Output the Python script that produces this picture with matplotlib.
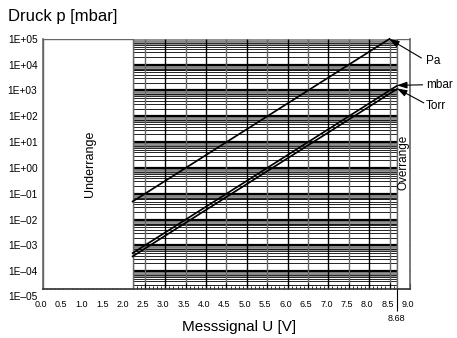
import numpy as np
import matplotlib
matplotlib.use('Agg')
import matplotlib.pyplot as plt
import matplotlib.transforms as mtransforms
from matplotlib.patches import Rectangle

plt.rcParams['font.family'] = ['Liberation Sans', 'DejaVu Sans']

# Kennlinie: p = 10**(U - c)
u_min = 2.2
u_max = 8.68
units = ['Pa', 'mbar', 'Torr']
offsets = [3.5, 5.5, 5.625]
u_ends = [8.5, 8.68, 8.68]

x_ticks = [0.0, 0.5, 1.0, 1.5, 2.0, 2.5, 3.0, 3.5, 4.0, 4.5, 5.0, 5.5, 6.0, 6.5, 7.0, 7.5, 8.0, 8.5, 9.0]
y_exps = [-4, -3, -2, -1, 0, 1, 2, 3, 4, 5]
y_labels = ['1E\u201304', '1E\u201303', '1E\u201302', '1E\u201301', '1E+00',
            '1E+01', '1E+02', '1E+03', '1E+04', '1E+05']

y_bottom = 10 ** -4.69

fig = plt.figure(figsize=(4.57, 3.38), dpi=100)
ax = fig.add_axes([0.094, 0.145, 0.803, 0.740])
ax.set_yscale('log')
ax.set_xlim(0, 9)
ax.set_ylim(y_bottom, 1e5)

# horizontal grid only in the measuring range
for e in range(-5, 5):
    base = 10.0 ** e
    ax.hlines(base, u_min, u_max, color='black', lw=1.6, zorder=1)
    for k in [2, 3, 4, 5, 6, 7]:
        ax.hlines(k * base, u_min, u_max, color='black', lw=0.6, zorder=1)
    for k in [6.5, 7.5, 8, 8.5, 9, 9.5]:
        ax.hlines(k * base, u_min, u_max, color='#808080', lw=0.6, zorder=0.8)

# vertical grid
for xv in np.arange(2.5, 8.6, 0.5):
    col = 'black' if abs(xv - round(xv)) < 1e-6 else '#666666'
    ax.vlines(xv, y_bottom, 1e5, color=col, lw=1.0, zorder=1.2)
ax.vlines([u_min, u_max], y_bottom, 1e5, color='#777777', lw=1.0, zorder=1.2)

# under-/overrange boxes
ax.add_patch(Rectangle((0, y_bottom), u_min, 1e5, facecolor='white', edgecolor='#666666', lw=1.0, zorder=2))
ax.add_patch(Rectangle((u_max, y_bottom), 9 - u_max, 1e5, facecolor='white', edgecolor='#666666', lw=1.0, zorder=2))
ax.text(1.15, 10 ** 0.15, 'Underrange', rotation=90, ha='center', va='center', fontsize=9, zorder=3)
ax.text(8.845, 10 ** 0.2, 'Overrange', rotation=90, ha='center', va='center', fontsize=8.5, zorder=3)

# Kennlinien
for unit, c, ue in zip(units, offsets, u_ends):
    u = np.array([u_min, ue])
    ax.plot(u, 10.0 ** (u - c), color='black', lw=1.25, zorder=4, clip_on=False)

# labels with arrows
label_pos = [(9.39, 10 ** 4.15), (9.39, 10 ** 3.22), (9.39, 10 ** 2.38)]
arrow_from = [(9.28, 10 ** 4.26), (9.31, 10 ** 3.22), (9.34, 10 ** 2.52)]
arrow_to = [(8.49, 10 ** 5.0), (8.68, 10 ** 3.2), (8.68, 10 ** 3.08)]
for unit, lp, af, at in zip(units, label_pos, arrow_from, arrow_to):
    ax.text(lp[0], lp[1], unit, fontsize=8.5, ha='left', va='center', clip_on=False)
    ax.annotate('', xy=at, xytext=af, annotation_clip=False,
                arrowprops=dict(arrowstyle='-|>,head_length=0.6,head_width=0.2', color='black',
                                lw=0.8, shrinkA=0, shrinkB=0))

# axes
ax.set_xticks(x_ticks)
ax.set_xticklabels(['%.1f' % t for t in x_ticks], fontsize=6.5)
ax.set_xticks(np.arange(0, 9.01, 0.1), minor=True)
ax.tick_params(axis='x', which='major', direction='in', length=4, width=0.8, pad=8)
ax.tick_params(axis='x', which='minor', direction='in', length=2, width=0.6)
shift = mtransforms.ScaledTranslation(-2 / 100, 0, fig.dpi_scale_trans)
for lab in ax.get_xticklabels():
    lab.set_transform(lab.get_transform() + shift)

ax.set_yticks([10.0 ** e for e in y_exps])
ax.set_yticklabels(y_labels, fontsize=7.3)
ax.yaxis.set_minor_locator(matplotlib.ticker.NullLocator())
ax.tick_params(axis='y', which='major', direction='in', length=2, width=0.8, right=True, pad=4)
ax.text(-0.015, 1e-5, '1E\u201305', transform=ax.get_yaxis_transform(), ha='right', va='center',
        fontsize=7.3, clip_on=False)

for s in ax.spines.values():
    s.set_color('#666666')
    s.set_linewidth(1.2)
ax.spines['bottom'].set_color('#333333')
ax.spines['top'].set_visible(False)

ax.vlines(u_max, 10 ** -5.54, y_bottom, color='black', lw=0.8, clip_on=False, zorder=5)
ax.text(u_max, 10 ** -5.82, '8.68', ha='center', va='center', fontsize=6.5)

fig.text(0.0175, 0.951, 'Druck p [mbar]', fontsize=12, ha='left', va='center')
fig.text(0.523, 0.032, 'Messsignal U [V]', fontsize=11, ha='center', va='center')

fig.savefig('out.png', dpi=100)
